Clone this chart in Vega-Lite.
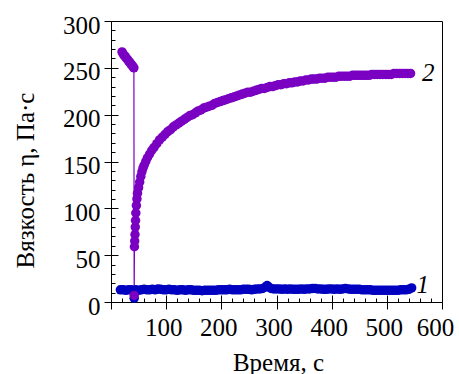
{
  "$schema": "https://vega.github.io/schema/vega-lite/v6.json",
  "width": 331,
  "height": 281,
  "autosize": {"type": "none"},
  "padding": {"left": 111, "top": 21, "right": 17, "bottom": 72},
  "background": "white",
  "config": {
    "view": {"stroke": "black", "strokeWidth": 1},
    "font": "Liberation Serif",
    "axis": {"grid": false, "labelFont": "Liberation Serif", "titleFont": "Liberation Serif", "labelColor": "black", "titleColor": "black", "tickColor": "black", "domainColor": "black", "titleFontWeight": "normal", "labelFontSize": 25, "titleFontSize": 25}
  },
  "datasets": {
    "pts": [
      {"s": "1", "x": 17, "y": 13}, {"s": "1", "x": 22, "y": 13}, {"s": "1", "x": 27, "y": 12.5}, {"s": "1", "x": 32, "y": 13}, {"s": "1", "x": 37, "y": 13}, {"s": "1", "x": 42, "y": 4}, {"s": "1", "x": 45, "y": 13}, {"s": "1", "x": 50, "y": 12.5}, {"s": "1", "x": 55, "y": 13}, {"s": "1", "x": 60, "y": 13.5}, {"s": "1", "x": 65, "y": 13}, {"s": "1", "x": 70, "y": 13}, {"s": "1", "x": 75, "y": 13.5}, {"s": "1", "x": 80, "y": 13}, {"s": "1", "x": 85, "y": 14}, {"s": "1", "x": 90, "y": 13.5}, {"s": "1", "x": 95, "y": 13}, {"s": "1", "x": 100, "y": 13}, {"s": "1", "x": 105, "y": 13.5}, {"s": "1", "x": 110, "y": 13}, {"s": "1", "x": 115, "y": 13}, {"s": "1", "x": 120, "y": 12.5}, {"s": "1", "x": 125, "y": 13}, {"s": "1", "x": 130, "y": 13}, {"s": "1", "x": 135, "y": 12.5}, {"s": "1", "x": 140, "y": 13}, {"s": "1", "x": 145, "y": 13}, {"s": "1", "x": 150, "y": 12.5}, {"s": "1", "x": 155, "y": 12.5}, {"s": "1", "x": 160, "y": 12.5}, {"s": "1", "x": 165, "y": 12}, {"s": "1", "x": 170, "y": 12.5}, {"s": "1", "x": 175, "y": 12.5}, {"s": "1", "x": 180, "y": 12.5}, {"s": "1", "x": 185, "y": 12.5}, {"s": "1", "x": 190, "y": 12.5}, {"s": "1", "x": 195, "y": 13}, {"s": "1", "x": 200, "y": 13}, {"s": "1", "x": 205, "y": 13}, {"s": "1", "x": 210, "y": 13}, {"s": "1", "x": 215, "y": 13.5}, {"s": "1", "x": 220, "y": 13}, {"s": "1", "x": 225, "y": 13}, {"s": "1", "x": 230, "y": 13}, {"s": "1", "x": 235, "y": 13}, {"s": "1", "x": 240, "y": 13.5}, {"s": "1", "x": 245, "y": 13.5}, {"s": "1", "x": 250, "y": 13.5}, {"s": "1", "x": 255, "y": 13}, {"s": "1", "x": 260, "y": 13.5}, {"s": "1", "x": 265, "y": 14}, {"s": "1", "x": 270, "y": 14}, {"s": "1", "x": 275, "y": 14.5}, {"s": "1", "x": 280, "y": 16}, {"s": "1", "x": 283, "y": 17.5}, {"s": "1", "x": 286, "y": 16}, {"s": "1", "x": 290, "y": 14.5}, {"s": "1", "x": 295, "y": 14}, {"s": "1", "x": 300, "y": 14}, {"s": "1", "x": 305, "y": 14}, {"s": "1", "x": 310, "y": 13.5}, {"s": "1", "x": 315, "y": 14}, {"s": "1", "x": 320, "y": 13.5}, {"s": "1", "x": 325, "y": 14}, {"s": "1", "x": 330, "y": 13.5}, {"s": "1", "x": 335, "y": 13.5}, {"s": "1", "x": 340, "y": 13.5}, {"s": "1", "x": 345, "y": 14}, {"s": "1", "x": 350, "y": 13.5}, {"s": "1", "x": 355, "y": 14}, {"s": "1", "x": 360, "y": 14}, {"s": "1", "x": 365, "y": 14.5}, {"s": "1", "x": 370, "y": 14.5}, {"s": "1", "x": 375, "y": 14}, {"s": "1", "x": 380, "y": 14}, {"s": "1", "x": 385, "y": 13.5}, {"s": "1", "x": 390, "y": 13.5}, {"s": "1", "x": 395, "y": 14}, {"s": "1", "x": 400, "y": 14}, {"s": "1", "x": 405, "y": 13.5}, {"s": "1", "x": 410, "y": 14}, {"s": "1", "x": 415, "y": 13.5}, {"s": "1", "x": 420, "y": 14}, {"s": "1", "x": 425, "y": 14.5}, {"s": "1", "x": 430, "y": 14}, {"s": "1", "x": 435, "y": 13.5}, {"s": "1", "x": 440, "y": 13.5}, {"s": "1", "x": 445, "y": 13.5}, {"s": "1", "x": 450, "y": 13.5}, {"s": "1", "x": 455, "y": 13}, {"s": "1", "x": 460, "y": 13}, {"s": "1", "x": 465, "y": 13}, {"s": "1", "x": 470, "y": 13}, {"s": "1", "x": 475, "y": 12.5}, {"s": "1", "x": 480, "y": 12.5}, {"s": "1", "x": 485, "y": 12.5}, {"s": "1", "x": 490, "y": 12.5}, {"s": "1", "x": 495, "y": 12.5}, {"s": "1", "x": 500, "y": 12.5}, {"s": "1", "x": 505, "y": 12.5}, {"s": "1", "x": 510, "y": 12.5}, {"s": "1", "x": 515, "y": 12.5}, {"s": "1", "x": 520, "y": 12.5}, {"s": "1", "x": 525, "y": 13}, {"s": "1", "x": 530, "y": 13}, {"s": "1", "x": 535, "y": 13}, {"s": "1", "x": 540, "y": 13.5}, {"s": "1", "x": 545, "y": 15},
      {"s": "2", "x": 20, "y": 267}, {"s": "2", "x": 22, "y": 265}, {"s": "2", "x": 24, "y": 263}, {"s": "2", "x": 26, "y": 262}, {"s": "2", "x": 28, "y": 260}, {"s": "2", "x": 30, "y": 259}, {"s": "2", "x": 32, "y": 257}, {"s": "2", "x": 34, "y": 256}, {"s": "2", "x": 36, "y": 254}, {"s": "2", "x": 38, "y": 253}, {"s": "2", "x": 40, "y": 251}, {"s": "2", "x": 41.5, "y": 250},
      {"s": "2", "x": 42, "y": 7},
      {"s": "2", "x": 42.5, "y": 59}, {"s": "2", "x": 43, "y": 65}, {"s": "2", "x": 43.5, "y": 72}, {"s": "2", "x": 44, "y": 80}, {"s": "2", "x": 44.5, "y": 87}, {"s": "2", "x": 45, "y": 95}, {"s": "2", "x": 46, "y": 103}, {"s": "2", "x": 47, "y": 110}, {"s": "2", "x": 48, "y": 116}, {"s": "2", "x": 50, "y": 122}, {"s": "2", "x": 52, "y": 128}, {"s": "2", "x": 54, "y": 134}, {"s": "2", "x": 56, "y": 139}, {"s": "2", "x": 58, "y": 143}, {"s": "2", "x": 60, "y": 146}, {"s": "2", "x": 63, "y": 150}, {"s": "2", "x": 66, "y": 154}, {"s": "2", "x": 70, "y": 158}, {"s": "2", "x": 74, "y": 162}, {"s": "2", "x": 78, "y": 165}, {"s": "2", "x": 83, "y": 169}, {"s": "2", "x": 88, "y": 173}, {"s": "2", "x": 93, "y": 176}, {"s": "2", "x": 98, "y": 179}, {"s": "2", "x": 103, "y": 182}, {"s": "2", "x": 108, "y": 184}, {"s": "2", "x": 113, "y": 187}, {"s": "2", "x": 118, "y": 189}, {"s": "2", "x": 123, "y": 191}, {"s": "2", "x": 128, "y": 193}, {"s": "2", "x": 133, "y": 195}, {"s": "2", "x": 138, "y": 197}, {"s": "2", "x": 143, "y": 199}, {"s": "2", "x": 148, "y": 200}, {"s": "2", "x": 153, "y": 202}, {"s": "2", "x": 158, "y": 204}, {"s": "2", "x": 163, "y": 205}, {"s": "2", "x": 168, "y": 207}, {"s": "2", "x": 173, "y": 208}, {"s": "2", "x": 178, "y": 209}, {"s": "2", "x": 183, "y": 210}, {"s": "2", "x": 188, "y": 212}, {"s": "2", "x": 193, "y": 213}, {"s": "2", "x": 198, "y": 214}, {"s": "2", "x": 203, "y": 215}, {"s": "2", "x": 208, "y": 216}, {"s": "2", "x": 213, "y": 217}, {"s": "2", "x": 218, "y": 218}, {"s": "2", "x": 223, "y": 219}, {"s": "2", "x": 228, "y": 220}, {"s": "2", "x": 233, "y": 221}, {"s": "2", "x": 238, "y": 222}, {"s": "2", "x": 243, "y": 223}, {"s": "2", "x": 248, "y": 224}, {"s": "2", "x": 253, "y": 224}, {"s": "2", "x": 258, "y": 225}, {"s": "2", "x": 263, "y": 226}, {"s": "2", "x": 268, "y": 227}, {"s": "2", "x": 273, "y": 228}, {"s": "2", "x": 278, "y": 228}, {"s": "2", "x": 283, "y": 229}, {"s": "2", "x": 288, "y": 230}, {"s": "2", "x": 293, "y": 230}, {"s": "2", "x": 298, "y": 231}, {"s": "2", "x": 303, "y": 232}, {"s": "2", "x": 308, "y": 232}, {"s": "2", "x": 313, "y": 233}, {"s": "2", "x": 318, "y": 233}, {"s": "2", "x": 323, "y": 234}, {"s": "2", "x": 328, "y": 234}, {"s": "2", "x": 333, "y": 235}, {"s": "2", "x": 338, "y": 235}, {"s": "2", "x": 343, "y": 236}, {"s": "2", "x": 348, "y": 236}, {"s": "2", "x": 353, "y": 237}, {"s": "2", "x": 358, "y": 237}, {"s": "2", "x": 363, "y": 238}, {"s": "2", "x": 368, "y": 238}, {"s": "2", "x": 373, "y": 238}, {"s": "2", "x": 378, "y": 239}, {"s": "2", "x": 383, "y": 239}, {"s": "2", "x": 388, "y": 239}, {"s": "2", "x": 393, "y": 240}, {"s": "2", "x": 398, "y": 240}, {"s": "2", "x": 403, "y": 240}, {"s": "2", "x": 408, "y": 240}, {"s": "2", "x": 413, "y": 241}, {"s": "2", "x": 418, "y": 241}, {"s": "2", "x": 423, "y": 241}, {"s": "2", "x": 428, "y": 241}, {"s": "2", "x": 433, "y": 241}, {"s": "2", "x": 438, "y": 242}, {"s": "2", "x": 443, "y": 242}, {"s": "2", "x": 448, "y": 242}, {"s": "2", "x": 453, "y": 242}, {"s": "2", "x": 458, "y": 242}, {"s": "2", "x": 463, "y": 242}, {"s": "2", "x": 468, "y": 242}, {"s": "2", "x": 473, "y": 243}, {"s": "2", "x": 478, "y": 243}, {"s": "2", "x": 483, "y": 243}, {"s": "2", "x": 488, "y": 243}, {"s": "2", "x": 493, "y": 243}, {"s": "2", "x": 498, "y": 243}, {"s": "2", "x": 503, "y": 243}, {"s": "2", "x": 508, "y": 243}, {"s": "2", "x": 513, "y": 244}, {"s": "2", "x": 518, "y": 244}, {"s": "2", "x": 523, "y": 244}, {"s": "2", "x": 528, "y": 244}, {"s": "2", "x": 533, "y": 244}, {"s": "2", "x": 538, "y": 244}, {"s": "2", "x": 543, "y": 244}
    ],
    "labels": [
      {"x": 575, "y": 244, "t": "2"},
      {"x": 565, "y": 18, "t": "1"}
    ]
  },
  "layer": [
    {
      "data": {"name": "pts"},
      "mark": {"type": "line", "strokeWidth": 1.2},
      "encoding": {
        "x": {"field": "x", "type": "quantitative", "scale": {"domain": [0, 600], "nice": false, "zero": false},
          "axis": {"orient": "bottom", "title": "Время, с", "values": [0, 100, 200, 300, 400, 500, 600], "labelExpr": "datum.value == 0 ? '' : datum.label", "tickSize": 7, "tickWidth": 1, "domain": true, "domainWidth": 1, "labelFontSize": 25, "labelBaseline": "alphabetic", "labelPadding": 26, "labelOffset": {"condition": {"test": "datum.value == 600", "value": -7}, "value": -3}, "titleFontSize": 25, "titleBaseline": "alphabetic", "titleX": 167, "titleY": 68, "titleAlign": "center", "labelFlush": false, "labelOverlap": false}},
        "y": {"field": "y", "type": "quantitative", "scale": {"domain": [0, 300], "nice": false, "zero": false},
          "axis": {"orient": "left", "title": "Вязкость η, Па·с", "values": [0, 50, 100, 150, 200, 250, 300], "tickSize": 7, "tickWidth": 1, "domain": true, "domainWidth": 1, "labelFontSize": 25, "labelBaseline": "alphabetic", "labelOffset": 12, "labelPadding": 4, "titleFontSize": 25, "titleBaseline": "alphabetic", "titleAngle": -90, "titleX": -78, "titleY": 159, "titleAlign": "center", "labelFlush": false, "labelOverlap": false}},
        "color": {"field": "s", "type": "nominal", "scale": {"domain": ["1", "2"], "range": ["#0000c0", "#7a00c2"]}, "legend": null}
      }
    },
    {
      "data": {"name": "pts"},
      "mark": {"type": "point", "filled": true, "opacity": 1, "size": 90},
      "encoding": {
        "x": {"field": "x", "type": "quantitative",
          "axis": {"orient": "bottom", "title": null, "labels": false, "domain": false, "values": [0, 20, 40, 60, 80, 100, 120, 140, 160, 180, 200, 220, 240, 260, 280, 300, 320, 340, 360, 380, 400, 420, 440, 460, 480, 500, 520, 540, 560, 580, 600], "tickSize": {"condition": {"test": "datum.value % 100 === 0", "value": -7}, "value": -4}}},
        "y": {"field": "y", "type": "quantitative",
          "axis": {"orient": "left", "title": null, "labels": false, "domain": false, "values": [0, 10, 20, 30, 40, 50, 60, 70, 80, 90, 100, 110, 120, 130, 140, 150, 160, 170, 180, 190, 200, 210, 220, 230, 240, 250, 260, 270, 280, 290, 300], "tickSize": {"condition": {"test": "datum.value % 50 === 0", "value": -7}, "value": -4}}},
        "color": {"field": "s", "type": "nominal", "legend": null}
      }
    },
    {
      "data": {"name": "labels"},
      "mark": {"type": "text", "font": "Liberation Serif", "fontStyle": "italic", "fontSize": 25, "color": "black", "baseline": "middle", "align": "center"},
      "encoding": {
        "x": {"field": "x", "type": "quantitative", "axis": null},
        "y": {"field": "y", "type": "quantitative", "axis": null},
        "text": {"field": "t"}
      }
    }
  ],
  "resolve": {"axis": {"x": "independent", "y": "independent"}}
}
